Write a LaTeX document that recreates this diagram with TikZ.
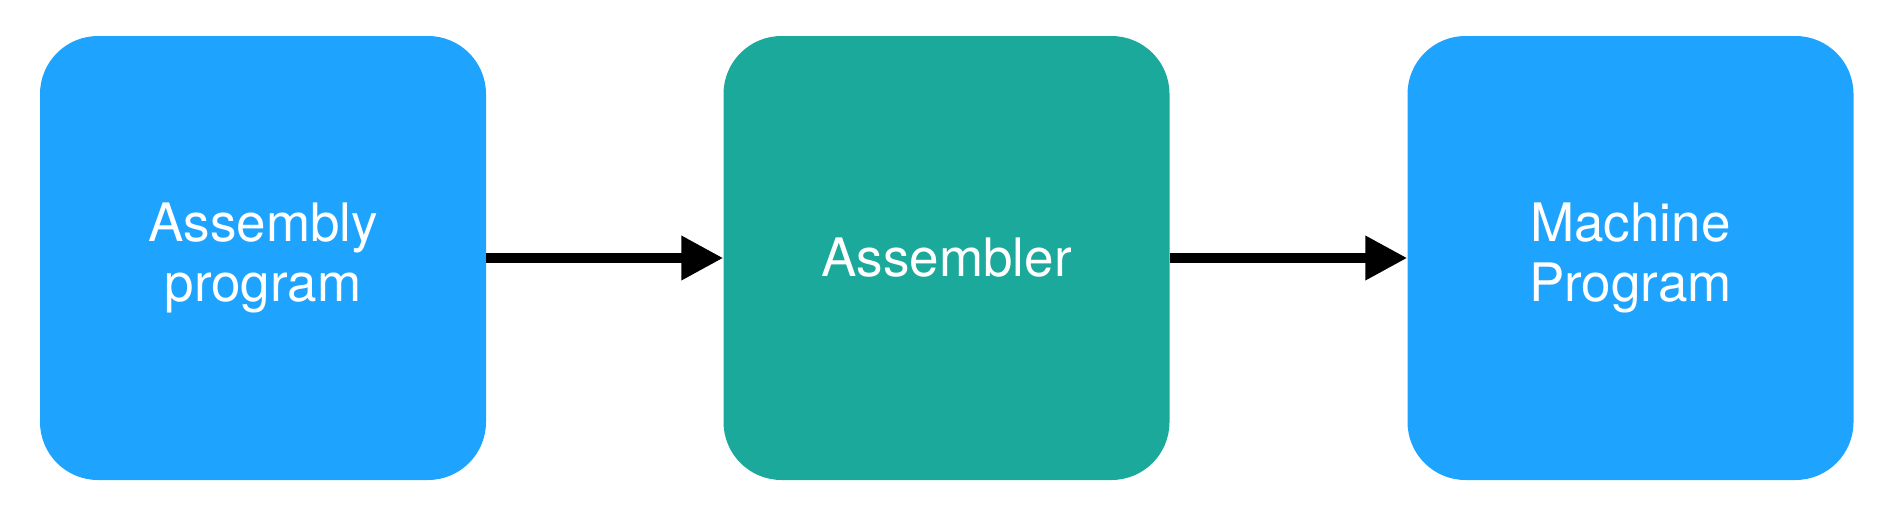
\documentclass[tikz,border=0pt]{standalone}
\usepackage{fontspec}
\setmainfont{TeX Gyre Heros}
\usetikzlibrary{arrows.meta, positioning}

\definecolor{progblue}{RGB}{30,164,255}
\definecolor{asmteal}{RGB}{27,169,155}

\begin{document}
\begin{tikzpicture}[x=1pt, y=-1pt]
		\tikzset{block/.style = {shape=rectangle, rounded corners=58pt, minimum width=446pt, minimum height=444pt, inner sep=0pt, text=white, align=center, font=\fontsize{53}{60}\selectfont}}
		\tikzset{edge/.style = {line width=10pt, -{Triangle[length=42pt, width=42pt]}}}

		\useasboundingbox (0,0) rectangle (1896,528);

		\node[block, fill=progblue] (asm) at (263, 258) {Assembly\\program};
		\node[block, fill=asmteal] (assembler) at (946.5, 258) {Assembler};
		\node[block, fill=progblue] (machine) at (1630.5, 258) {Machine\\Program};

		\draw[edge] (asm) -- (assembler);
		\draw[edge] (assembler) -- (machine);

	\end{tikzpicture}
\end{document}
